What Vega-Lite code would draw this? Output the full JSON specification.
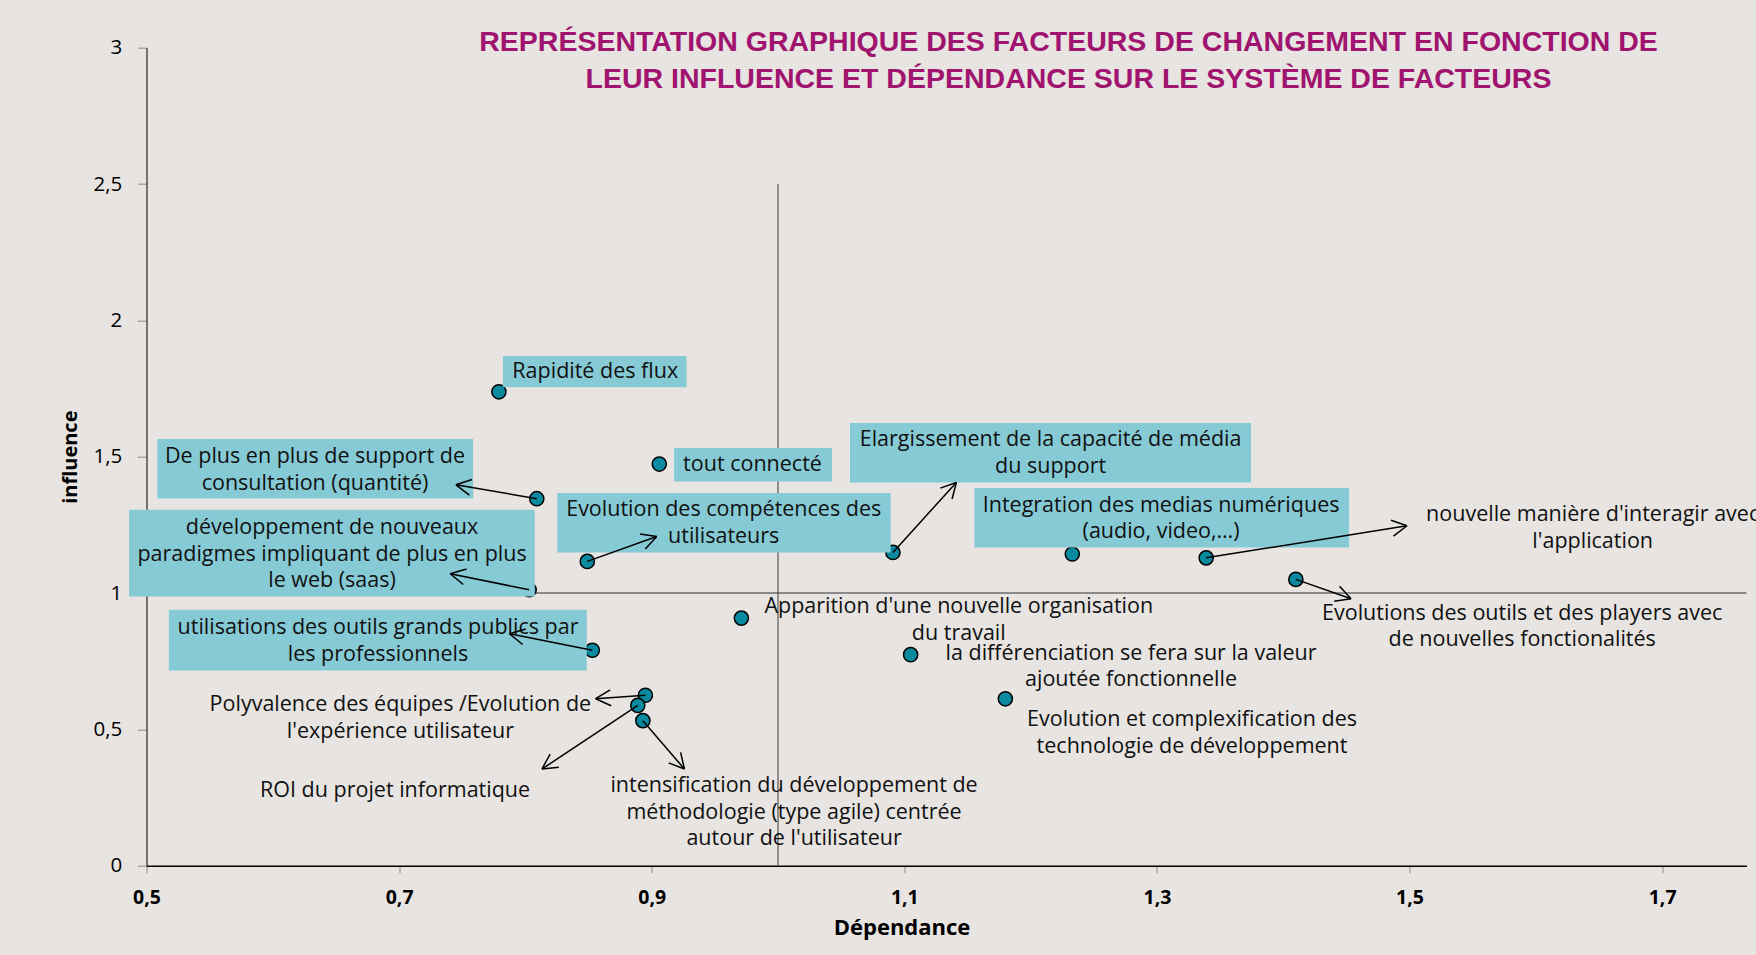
{
  "$schema": "https://vega.github.io/schema/vega-lite/v6.json",
  "width": 1600,
  "height": 818,
  "autosize": {"type": "none"},
  "padding": {"left": 146.5, "top": 47.7, "right": 9.5, "bottom": 89.3},
  "background": "#e7e4e1",
  "config": {"view": {"stroke": null}, "font": "Open Sans"},
  "title": {
    "text": ["REPRÉSENTATION GRAPHIQUE DES FACTEURS DE CHANGEMENT EN FONCTION DE", "LEUR INFLUENCE ET DÉPENDANCE SUR LE SYSTÈME DE FACTEURS"],
    "font": "Liberation Sans",
    "fontSize": 28.5,
    "fontWeight": "bold",
    "color": "#a0136f",
    "anchor": "middle",
    "frame": "group",
    "dx": 122,
    "offset": -55.6,
    "lineHeight": 36.7
  },
  "datasets": {
    "hline": [{"x": 0.5, "x2": 1.7668, "y": 1}],
    "vline": [{"x": 1.0, "y": 0, "y2": 2.5}],
    "points": [
      {"name": "Rapidité des flux", "x": 0.779, "y": 1.738},
      {"name": "tout connecté", "x": 0.906, "y": 1.473},
      {"name": "De plus en plus de support de consultation", "x": 0.809, "y": 1.346},
      {"name": "Evolution des compétences des utilisateurs", "x": 0.849, "y": 1.116},
      {"name": "développement de nouveaux paradigmes", "x": 0.803, "y": 1.012},
      {"name": "Elargissement de la capacité de média", "x": 1.091, "y": 1.149},
      {"name": "Integration des medias numériques", "x": 1.233, "y": 1.143},
      {"name": "nouvelle manière d'interagir", "x": 1.339, "y": 1.129},
      {"name": "Evolutions des outils et des players", "x": 1.41, "y": 1.05},
      {"name": "Apparition d'une nouvelle organisation", "x": 0.971, "y": 0.908},
      {"name": "la différenciation", "x": 1.105, "y": 0.774},
      {"name": "Evolution et complexification", "x": 1.18, "y": 0.612},
      {"name": "utilisations des outils grands publics", "x": 0.853, "y": 0.79},
      {"name": "Polyvalence des équipes", "x": 0.895, "y": 0.625},
      {"name": "ROI du projet informatique", "x": 0.889, "y": 0.588},
      {"name": "intensification du développement", "x": 0.893, "y": 0.532}
    ],
    "boxes": [
      {"x": 0.7822, "x2": 0.9276, "y": 1.7547, "y2": 1.8694},
      {"x": 0.9177, "x2": 1.0428, "y": 1.4092, "y2": 1.5317},
      {"x": 0.5086, "x2": 0.7586, "y": 1.3469, "y2": 1.5647},
      {"x": 0.4862, "x2": 0.8074, "y": 0.9875, "y2": 1.3055},
      {"x": 0.5177, "x2": 0.8486, "y": 0.7162, "y2": 0.9388},
      {"x": 0.8252, "x2": 1.0892, "y": 1.1489, "y2": 1.3667},
      {"x": 1.057, "x2": 1.3745, "y": 1.4056, "y2": 1.6234},
      {"x": 1.1555, "x2": 1.4521, "y": 1.1672, "y2": 1.385}
    ],
    "segments": [
      {"x": 0.809, "y": 1.346, "x2": 0.745, "y2": 1.397},
      {"x": 0.745, "y": 1.397, "x2": 0.7556, "y2": 1.359},
      {"x": 0.745, "y": 1.397, "x2": 0.7578, "y2": 1.4166},
      {"x": 0.803, "y": 1.012, "x2": 0.7405, "y2": 1.0708},
      {"x": 0.7405, "y": 1.0708, "x2": 0.7508, "y2": 1.0312},
      {"x": 0.7405, "y": 1.0708, "x2": 0.7534, "y2": 1.0884},
      {"x": 0.853, "y": 0.79, "x2": 0.7874, "y2": 0.8507},
      {"x": 0.7874, "y": 0.8507, "x2": 0.7978, "y2": 0.8111},
      {"x": 0.7874, "y": 0.8507, "x2": 0.8003, "y2": 0.8683},
      {"x": 0.895, "y": 0.625, "x2": 0.8556, "y2": 0.6124},
      {"x": 0.8556, "y": 0.6124, "x2": 0.8679, "y2": 0.5867},
      {"x": 0.8556, "y": 0.6124, "x2": 0.8671, "y2": 0.645},
      {"x": 0.889, "y": 0.588, "x2": 0.8131, "y2": 0.3546},
      {"x": 0.8131, "y": 0.3546, "x2": 0.8265, "y2": 0.3608},
      {"x": 0.8131, "y": 0.3546, "x2": 0.8196, "y2": 0.4096},
      {"x": 0.893, "y": 0.532, "x2": 0.9259, "y2": 0.3546},
      {"x": 0.9259, "y": 0.3546, "x2": 0.9229, "y2": 0.4155},
      {"x": 0.9259, "y": 0.3546, "x2": 0.9134, "y2": 0.377},
      {"x": 0.849, "y": 1.116, "x2": 0.904, "y2": 1.2076},
      {"x": 0.904, "y": 1.2076, "x2": 0.8907, "y2": 1.2167},
      {"x": 0.904, "y": 1.2076, "x2": 0.8949, "y2": 1.1613},
      {"x": 1.091, "y": 1.149, "x2": 1.1412, "y2": 1.4056},
      {"x": 1.1412, "y": 1.4056, "x2": 1.1285, "y2": 1.3847},
      {"x": 1.1412, "y": 1.4056, "x2": 1.1378, "y2": 1.3451},
      {"x": 1.339, "y": 1.129, "x2": 1.498, "y2": 1.2468},
      {"x": 1.498, "y": 1.2468, "x2": 1.4853, "y2": 1.267},
      {"x": 1.498, "y": 1.2468, "x2": 1.4873, "y2": 1.209},
      {"x": 1.41, "y": 1.05, "x2": 1.4537, "y2": 0.9791},
      {"x": 1.4537, "y": 0.9791, "x2": 1.4446, "y2": 1.0249},
      {"x": 1.4537, "y": 0.9791, "x2": 1.4404, "y2": 0.9696}
    ],
    "labels": [
      {"label": "Rapidité des flux", "x": 0.8553, "y": 1.8122},
      {"label": "tout connecté", "x": 0.9798, "y": 1.4679},
      {"label": "De plus en plus de support de\nconsultation (quantité)", "x": 0.6334, "y": 1.4987},
      {"label": "Evolution des compétences des\nutilisateurs", "x": 0.957, "y": 1.3029},
      {"label": "développement de nouveaux\nparadigmes impliquant de plus en plus\nle web (saas)", "x": 0.6469, "y": 1.2384},
      {"label": "Elargissement de la capacité de média\ndu support", "x": 1.2158, "y": 1.5596},
      {"label": "Integration des medias numériques\n(audio, video,…)", "x": 1.3033, "y": 1.3201},
      {"label": "nouvelle manière d'interagir avec\nl'application", "x": 1.645, "y": 1.2846},
      {"label": "Evolutions des outils et des players avec\nde nouvelles fonctionalités", "x": 1.5892, "y": 0.9241},
      {"label": "Apparition d'une nouvelle organisation\ndu travail", "x": 1.1431, "y": 0.9487},
      {"label": "la différenciation se fera sur la valeur\najoutée fonctionnelle", "x": 1.2795, "y": 0.7774},
      {"label": "Evolution et complexification des\ntechnologie de développement", "x": 1.3278, "y": 0.5328},
      {"label": "utilisations des outils grands publics par\nles professionnels", "x": 0.6833, "y": 0.8717},
      {"label": "Polyvalence des équipes /Evolution de\nl'expérience utilisateur", "x": 0.701, "y": 0.5878},
      {"label": "ROI du projet informatique", "x": 0.6968, "y": 0.275},
      {"label": "intensification du développement de\nméthodologie (type agile) centrée\nautour de l'utilisateur", "x": 1.0127, "y": 0.2908}
    ]
  },
  "encoding": {
    "x": {
      "field": "x",
      "type": "quantitative",
      "scale": {"domain": [0.5, 1.7668], "nice": false, "zero": false},
      "axis": {
        "title": "Dépendance",
        "values": [0.5, 0.7, 0.9, 1.1, 1.3, 1.5, 1.7],
        "labelExpr": "replace(format(datum.value, '.1f'), '.', ',')",
        "grid": false,
        "domainColor": "#000000",
        "domainWidth": 1.5,
        "tickColor": "#8c8c8c",
        "tickSize": 7,
        "labelFont": "Open Sans",
        "labelFontWeight": "bold",
        "labelFontSize": 19.5,
        "labelColor": "#000000",
        "labelPadding": 15.6,
        "labelFlush": false,
        "labelOverlap": false,
        "titleFont": "Open Sans",
        "titleFontWeight": "bold",
        "titleFontSize": 22,
        "titleColor": "#000000",
        "titleX": 755,
        "titleY": 69,
        "titleBaseline": "alphabetic"
      }
    },
    "y": {
      "field": "y",
      "type": "quantitative",
      "scale": {"domain": [0, 3], "nice": false, "zero": true},
      "axis": {
        "title": "influence",
        "values": [0, 0.5, 1, 1.5, 2, 2.5, 3],
        "labelExpr": "replace(toString(datum.value), '.', ',')",
        "grid": false,
        "domainColor": "#000000",
        "domainWidth": 1,
        "tickColor": "#8c8c8c",
        "tickSize": 9,
        "labelFont": "Open Sans",
        "labelFontSize": 20.5,
        "labelColor": "#000000",
        "labelPadding": 15.8,
        "labelFlush": false,
        "labelOverlap": false,
        "titleFont": "Open Sans",
        "titleFontWeight": "bold",
        "titleFontSize": 20,
        "titleColor": "#000000",
        "titleX": -69.8,
        "titleY": 409,
        "titleBaseline": "alphabetic"
      }
    }
  },
  "layer": [
    {
      "data": {"name": "hline"},
      "mark": {"type": "rule", "color": "#8a8a8a", "strokeWidth": 2},
      "encoding": {"x2": {"field": "x2"}}
    },
    {
      "data": {"name": "vline"},
      "mark": {"type": "rule", "color": "#3a3a3a", "strokeWidth": 1},
      "encoding": {"y2": {"field": "y2"}}
    },
    {
      "data": {"name": "points"},
      "mark": {"type": "point", "shape": "circle", "filled": true, "fill": "#0a8a9f", "stroke": "#000000", "strokeWidth": 1.5, "size": 200, "opacity": 1}
    },
    {
      "data": {"name": "boxes"},
      "mark": {"type": "rect", "color": "#86cad5"},
      "encoding": {"x2": {"field": "x2"}, "y2": {"field": "y2"}}
    },
    {
      "data": {"name": "segments"},
      "mark": {"type": "rule", "color": "#000000", "strokeWidth": 1.5},
      "encoding": {"x2": {"field": "x2"}, "y2": {"field": "y2"}}
    },
    {
      "data": {"name": "labels"},
      "mark": {"type": "text", "font": "Open Sans", "fontSize": 21.5, "color": "#111111", "align": "center", "baseline": "middle", "lineHeight": 26.5, "lineBreak": "\n"},
      "encoding": {"text": {"field": "label"}}
    }
  ]
}
